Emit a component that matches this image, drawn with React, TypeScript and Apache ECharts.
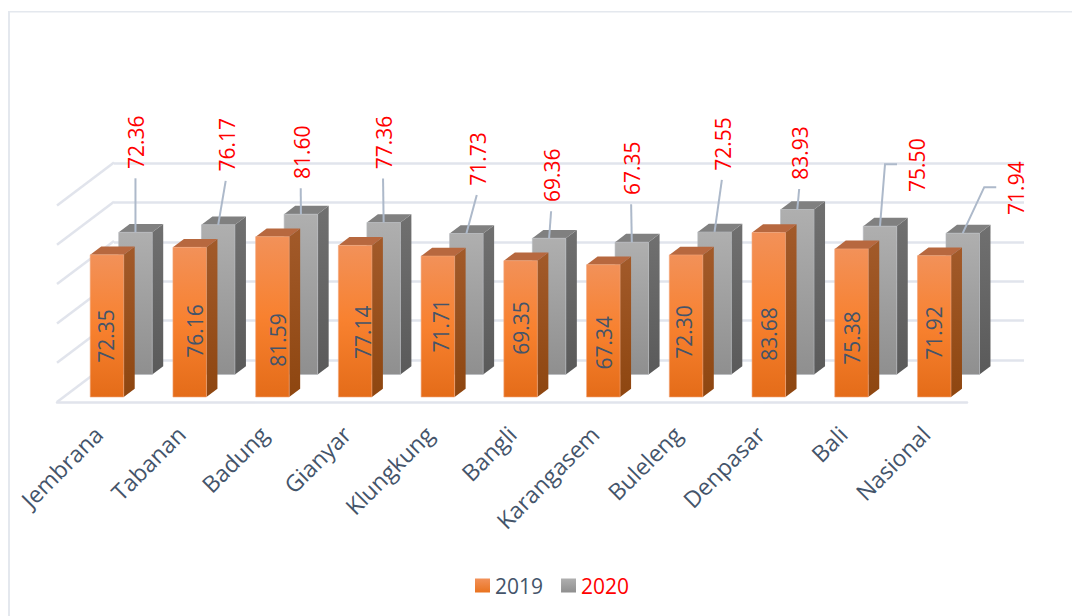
import React, { useEffect, useRef } from "react";
import * as echarts from "echarts";

const categories = ["Jembrana", "Tabanan", "Badung", "Gianyar", "Klungkung", "Bangli", "Karangasem", "Buleleng", "Denpasar", "Bali", "Nasional"];
const values2019 = [72.35, 76.16, 81.59, 77.14, 71.71, 69.35, 67.34, 72.3, 83.68, 75.38, 71.92];
const values2020 = [72.36, 76.17, 81.6, 77.36, 71.73, 69.36, 67.35, 72.55, 83.93, 75.5, 71.94];
const gridTicks = [0, 20, 40, 60, 80, 100];

// Hand-placed data labels, as offsets from each bar.
const labelShift2019: [number, number][] = [[-1.3, -61], [5, -66], [5.6, -57], [8, -64.7], [3.2, -71.3], [0.5, -69], [1, -54.3], [-2, -65], [0.4, -63], [0.7, -59], [0, -64]];
const labelShift2020: [number, number][] = [[1, -90], [8.5, -80], [0.8, -62], [0.4, -80], [11.4, -74.5], [3, -63], [0.3, -74], [8.3, -88], [2.9, -56.6], [37, -61], [53.5, -45]];
// Leaders of these categories bend sideways towards the label.
const elbowLeaders = [9, 10];

const FONT = "Open Sans";
const INK = "#44546A";
const RED = "#FF0000";
const GRID_LINE = "#E1E4EC";
const LEADER = "#ADB9CA";

const WALL_DX = 57;
const WALL_DY = -43;
const BAR_W = 33.5;
const DEPTH_DX = 11;
const DEPTH_DY = -8.3;

const vGrad = (a: string, b: string, c?: string) =>
  new echarts.graphic.LinearGradient(0, 0, 0, 1,
    c
      ? [{ offset: 0, color: a }, { offset: 0.5, color: b }, { offset: 1, color: c }]
      : [{ offset: 0, color: a }, { offset: 1, color: b }]);

// One extruded bar: front face, side face and top face.
function box(x0: number, yTop: number, yBase: number, front: any, side: any, top: string, edge: string) {
  const x1 = x0 + BAR_W;
  return [
    { type: "polygon", shape: { points: [[x1, yTop], [x1 + DEPTH_DX, yTop + DEPTH_DY], [x1 + DEPTH_DX, yBase + DEPTH_DY], [x1, yBase]] }, style: { fill: side } },
    { type: "polygon", shape: { points: [[x0, yTop], [x0 + DEPTH_DX, yTop + DEPTH_DY], [x1 + DEPTH_DX, yTop + DEPTH_DY], [x1, yTop]] }, style: { fill: top } },
    { type: "rect", shape: { x: x0, y: yTop, width: BAR_W, height: yBase - yTop }, style: { fill: front, stroke: edge, lineWidth: 0.6 } },
  ];
}

function rotatedLabel(text: string, x: number, y: number, fill: string) {
  return {
    type: "text",
    x,
    y,
    rotation: Math.PI / 2,
    style: { text, fill, fontFamily: FONT, fontSize: 21, align: "center", verticalAlign: "middle" },
  };
}

export default function App() {
  const ref = useRef<HTMLDivElement>(null);

  useEffect(() => {
    const chart = echarts.init(ref.current!, undefined, { renderer: "svg" });

    const renderWall = (params: any, api: any) => {
      const sys = params.coordSys;
      const y = api.coord([0, api.value(1)])[1];
      return {
        type: "line",
        shape: { x1: sys.x, y1: y, x2: sys.x + WALL_DX, y2: y + WALL_DY },
        style: { stroke: GRID_LINE, lineWidth: 2.5 },
      };
    };

    const renderBack = (_: any, api: any) => {
      const i = api.value(0);
      const v = api.value(1);
      const cx = api.coord([i, 0])[0] + 37.1;
      const base = api.coord([i, 0])[1] - 27.5;
      const yTop = base - (api.coord([i, 0])[1] - api.coord([i, v])[1]);
      const [sx, sy] = labelShift2020[i];
      const lx = cx + sx;
      const ly = yTop + sy;
      const points = elbowLeaders.includes(i)
        ? [[cx, yTop], [lx - 32, ly - 1], [lx - 20, ly - 1]]
        : [[cx, yTop], [lx - 1, ly + 36]];
      return {
        type: "group",
        children: [
          ...box(cx - BAR_W / 2, yTop, base, vGrad("#AFAFAF", "#8F8F8F"), vGrad("#707070", "#5A5A5A"), "#808080", "#B5B8BD"),
          { type: "polyline", shape: { points }, style: { stroke: LEADER, lineWidth: 2, fill: "none" } },
          rotatedLabel(v.toFixed(2), lx, ly, RED),
        ],
      };
    };

    const renderFront = (_: any, api: any) => {
      const i = api.value(0);
      const v = api.value(1);
      const cx = api.coord([i, 0])[0] + 8.6;
      const base = api.coord([i, 0])[1] - 5;
      const yTop = base - (api.coord([i, 0])[1] - api.coord([i, v])[1]);
      const [sx, sy] = labelShift2019[i];
      return {
        type: "group",
        children: [
          ...box(cx - BAR_W / 2, yTop, base, vGrad("#F29159", "#F8812F", "#E46C19"), vGrad("#A25A2A", "#8E4610"), "#B7683F", "#F2A578"),
          rotatedLabel(v.toFixed(2), cx + sx, base + sy, INK),
        ],
      };
    };

    chart.setOption({
      animation: false,
      backgroundColor: "#fff",
      graphic: [
        { type: "rect", shape: { x: 8, y: 11, width: 1064, height: 1.5 }, style: { fill: "#E4E8EE" } },
        { type: "rect", shape: { x: 8, y: 11, width: 2, height: 605 }, style: { fill: "#E4E8EE" } },
      ],
      legend: {
        left: 470,
        top: 570,
        itemWidth: 15,
        itemHeight: 14,
        itemGap: 18,
        data: [
          { name: "2019", icon: "rect", itemStyle: { color: vGrad("#F29159", "#E9731F") }, textStyle: { color: INK, fontFamily: FONT, fontSize: 21 } },
          { name: "2020", icon: "rect", itemStyle: { color: vGrad("#AFAFAF", "#8F8F8F") }, textStyle: { color: RED, fontFamily: FONT, fontSize: 21 } },
        ],
      },
      grid: [
        { left: 57, top: 205.5, width: 910, height: 196.5 },
        { left: 114, top: 163, width: 910, height: 197 },
      ],
      xAxis: [
        {
          type: "category",
          gridIndex: 0,
          data: categories,
          axisTick: { show: false },
          axisLine: { lineStyle: { color: GRID_LINE, width: 2.5 } },
          axisLabel: { rotate: 45, interval: 0, margin: 28, color: INK, fontFamily: FONT, fontSize: 23 },
        },
        { type: "category", gridIndex: 1, data: categories, show: false },
      ],
      yAxis: [
        { type: "value", gridIndex: 0, min: 0, max: 100, interval: 20, show: false },
        {
          type: "value",
          gridIndex: 1,
          min: 0,
          max: 100,
          interval: 20,
          axisLabel: { show: false },
          axisLine: { show: false },
          axisTick: { show: false },
          splitLine: { lineStyle: { color: GRID_LINE, width: 2.5 } },
        },
      ],
      series: [
        { type: "custom", xAxisIndex: 0, yAxisIndex: 0, silent: true, renderItem: renderWall, data: gridTicks.map((t) => [0, t]), clip: false },
        { type: "custom", name: "2020", xAxisIndex: 0, yAxisIndex: 0, silent: true, renderItem: renderBack, data: values2020.map((v, i) => [i, v]), clip: false },
        { type: "custom", name: "2019", xAxisIndex: 0, yAxisIndex: 0, silent: true, renderItem: renderFront, data: values2019.map((v, i) => [i, v]), clip: false },
      ],
    });

    return () => chart.dispose();
  }, []);

  return <div ref={ref} style={{ position: "absolute", left: 0, top: 0, width: 1072, height: 616 }} />;
}
